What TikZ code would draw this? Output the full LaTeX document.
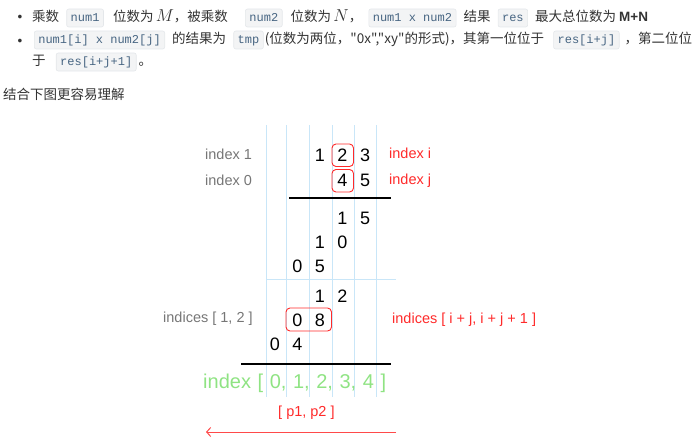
\documentclass[tikz,border=0pt]{standalone}
\usepackage{amsmath}
\usepackage{fontspec}
\setmainfont{Liberation Sans}
\setmonofont{Liberation Mono}
\newfontfamily\cjk{Noto Sans CJK SC}
\usepackage{xcolor}
\usepackage{tikz}
\usetikzlibrary{arrows.meta,positioning}

\definecolor{bodytxt}{HTML}{333333}
\definecolor{codetxt}{HTML}{476582}
\definecolor{codebg}{HTML}{F3F4F5}
\definecolor{codeline}{HTML}{E4E7EA}
\definecolor{gridblue}{HTML}{C9E6F8}
\definecolor{labgrey}{HTML}{767676}
\definecolor{labred}{HTML}{FF2A2A}
\definecolor{idxgreen}{HTML}{8FE383}

\tikzset{
  txt/.style={inner sep=0pt, text=bodytxt, font=\cjk\fontsize{13.5}{16}\selectfont,
    text height=10pt, text depth=3pt},
  codebox/.style={fill=codebg, draw=codeline, line width=0.6pt, rounded corners=2pt,
    inner xsep=4pt, inner ysep=0pt, minimum height=18pt, text=codetxt,
    font=\ttfamily\fontsize{12}{14}\selectfont, text height=10pt, text depth=3pt},
  digit/.style={inner sep=0pt, font=\fontsize{18}{20}\selectfont},
  note/.style={inner sep=0pt, anchor=base west, font=\fontsize{14.5}{17}\selectfont},
  gridline/.style={draw=gridblue, line width=0.8pt},
  sumrule/.style={line width=1.4pt},
  hilite/.style={draw=labred, line width=0.9pt, rounded corners=4pt},
}

\begin{document}
\begin{tikzpicture}[x=1pt,y=-1pt]
\useasboundingbox (0,0) rectangle (698,444);

% text above the picture
\node[txt,anchor=center] (bul1) at (20,18) {\rmfamily •};
\node[txt,anchor=west] (t1) at (32,18) {乘数};
\node[codebox,right=7pt of t1] (c1) {num1};
\node[txt,right=9pt of c1] (t2) {位数为\,{\fontsize{16}{16}\selectfont$M$}，被乘数};
\node[codebox,right=17pt of t2] (c2) {num2};
\node[txt,right=8pt of c2] (t3) {位数为\,{\fontsize{16}{16}\selectfont$N$}，};
\node[codebox,right=6pt of t3] (c3) {num1 x num2};
\node[txt,right=7pt of c3] (t4) {结果};
\node[codebox,right=7pt of t4] (c4) {res};
\node[txt,right=7pt of c4] (t5) {最大总位数为 {\rmfamily\bfseries M+N}};

\node[txt,anchor=center] (bul2) at (20,42) {\rmfamily •};
\node[codebox,anchor=west] (c5) at (34,40) {num1[i] x num2[j]};
\node[txt,right=7pt of c5] (t6) {的结果为};
\node[codebox,right=7pt of t6] (c6) {tmp};
\node[txt,right=1pt of c6] (t7) {(位数为两位，"0x","xy"的形式)，其第一位位于};
\node[codebox,right=9pt of t7] (c7) {res[i+j]};
\node[txt,right=5pt of c7] (t8) {，第二位位};

\node[txt,anchor=west] (t9) at (32,62) {于};
\node[codebox,right=10pt of t9] (c8) {res[i+j+1]};
\node[txt,right=2pt of c8] (t10) {。};

\node[txt,anchor=west] (t11) at (3,96) {结合下图更容易理解};

% columns and rules
\foreach \x in {266,286,309,332,354,376}
  \draw[gridline] (\x,125) -- (\x,397);
\draw[gridline] (266,279) -- (396,279);
\draw[sumrule] (289,198) -- (391,198);
\draw[sumrule] (241,364) -- (391,364);

% digits: value / column / row
\foreach \d/\c/\r in {1/2/155.5, 2/3/155.5, 3/4/155.5,
                      4/3/180.5, 5/4/180.5,
                      1/3/218, 5/4/218,
                      1/2/242, 0/3/242,
                      0/1/266.5, 5/2/266.5,
                      1/2/296, 2/3/296,
                      0/1/320, 8/2/320,
                      0/0/344.5, 4/1/344.5}
  \node[digit] (n-\c-\r) at ({275+22.5*\c},\r) {\d};

\draw[hilite] (332,144) rectangle (353.5,166.5);
\draw[hilite] (332,169.5) rectangle (353.5,192);
\draw[hilite] (286,308) rectangle (331.5,331);

% labels
\node[note,text=labgrey] (lbl1) at (205,159.5) {index 1};
\node[note,text=labgrey] (lbl0) at (205,185) {index 0};
\node[note,text=labgrey] (lblij) at (163,322.5) {indices [ 1, 2 ]};
\node[note,text=labred] (lbli) at (389,158.5) {index i};
\node[note,text=labred] (lblj) at (389,184.5) {index j};
\node[note,text=labred] (lblsum) at (392,323.5) {indices [ i + j, i + j + 1 ]};
\node[note,text=idxgreen,font=\fontsize{20}{22}\selectfont] (lblidx) at (203,388)
  {\spaceskip=6.6pt index [ 0, 1, 2, 3, 4 ]};
\node[note,text=labred] (lblp) at (278,416) {[ p1, p2 ]};

\coordinate (arrR) at (396,432);
\coordinate (arrL) at (206,432);
\draw[labred!85!white,line width=1pt,-{Straight Barb[length=4pt,width=9pt]}] (arrR) -- (arrL);
\end{tikzpicture}
\end{document}
